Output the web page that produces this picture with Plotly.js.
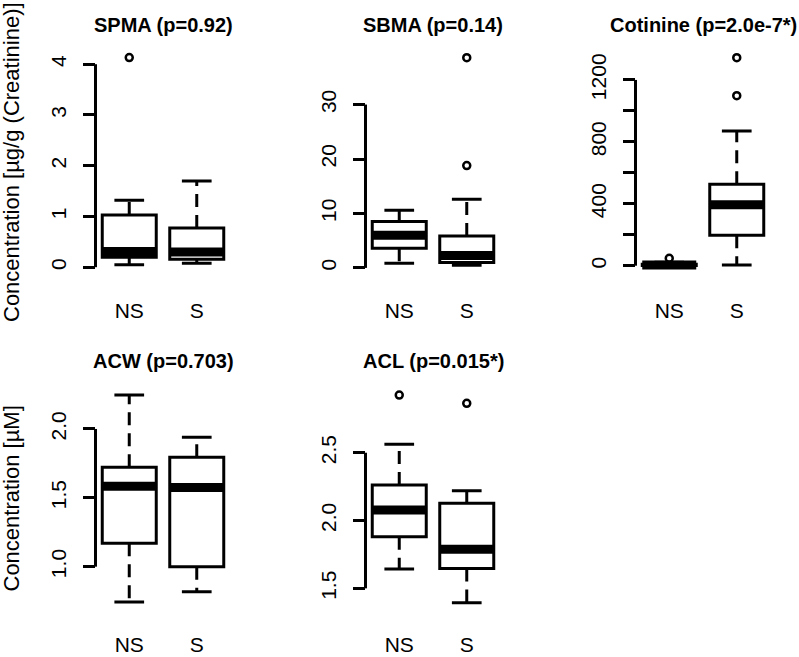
<!DOCTYPE html>
<html>
<head>
<meta charset="utf-8">
<script src="https://cdn.plot.ly/plotly-3.0.1.min.js"></script>
<style>html,body{margin:0;padding:0;background:#fff;}</style>
</head>
<body>
<div id="chart" style="width:799px;height:657px;"></div>
<script>
// ---- data ----
const groups = ['NS', 'S'];
const positions = [1, 2];
// five-number summaries: [lower whisker, Q1, median, Q3, upper whisker]
const spmaNS = [0.05, 0.195, 0.31, 1.03, 1.32];
const spmaS  = [0.077, 0.155, 0.30, 0.77, 1.70];
const spmaOutNS = [4.13];
const spmaOutS  = [];
const sbmaNS = [0.85, 3.6, 6.0, 8.5, 10.6];
const sbmaS  = [0.5, 1.0, 2.3, 5.86, 12.6];
const sbmaOutNS = [];
const sbmaOutS  = [18.8, 38.6];
const cotNS = [0, 1, 4, 10, 22];
const cotS  = [5, 196, 394, 526, 870];
const cotOutNS = [48];
const cotOutS  = [1098, 1344];
const acwNS = [0.743, 1.17, 1.584, 1.722, 2.247];
const acwS  = [0.818, 1.0, 1.575, 1.795, 1.94];
const acwOutNS = [];
const acwOutS  = [];
const aclNS = [1.642, 1.88, 2.077, 2.262, 2.562];
const aclS  = [1.394, 1.647, 1.788, 2.127, 2.22];
const aclOutNS = [2.925];
const aclOutS  = [2.864];

const titles = ['SPMA (p=0.92)', 'SBMA (p=0.14)', 'Cotinine (p=2.0e-7*)', 'ACW (p=0.703)', 'ACL (p=0.015*)'];
const yTitles = ['Concentration [µg/g (Creatinine)]', 'Concentration [µM]'];
const spmaTicks = [0, 1, 2, 3, 4];
const spmaTickText = ['0', '1', '2', '3', '4'];
const sbmaTicks = [0, 10, 20, 30];
const sbmaTickText = ['0', '10', '20', '30'];
const cotTicks = [0, 200, 400, 600, 800, 1000, 1200];
const cotTickText = ['0', '', '400', '', '800', '', '1200'];
const acwTicks = [1.0, 1.5, 2.0];
const acwTickText = ['1.0', '1.5', '2.0'];
const aclTicks = [1.5, 2.0, 2.5];
const aclTickText = ['1.5', '2.0', '2.5'];

// ---- layout helpers ----
const W = 799, H = 657;
const FONT = 'Liberation Sans, Arial, Helvetica, sans-serif';
const colPx = [[95.5, 230.5], [365.5, 500.5], [635.5, 770.5]];
const rowPx = [[50, 274], [386, 611]];
const rowLabelStandoff = [22, 19];
const xd = c => [colPx[c][0] / W, colPx[c][1] / W];
const yd = r => [1 - rowPx[r][1] / H, 1 - rowPx[r][0] / H];

const panels = [
  {stats: [spmaNS, spmaS], outs: [spmaOutNS, spmaOutS], ticks: spmaTicks, tt: spmaTickText, range: [-0.134, 4.280], col: 0, row: 0},
  {stats: [sbmaNS, sbmaS], outs: [sbmaOutNS, sbmaOutS], ticks: sbmaTicks, tt: sbmaTickText, range: [-1.12, 40.02], col: 1, row: 0},
  {stats: [cotNS, cotS], outs: [cotOutNS, cotOutS], ticks: cotTicks, tt: cotTickText, range: [-53.6, 1393.4], col: 2, row: 0},
  {stats: [acwNS, acwS], outs: [acwOutNS, acwOutS], ticks: acwTicks, tt: acwTickText, range: [0.678, 2.312], col: 0, row: 1},
  {stats: [aclNS, aclS], outs: [aclOutNS, aclOutS], ticks: aclTicks, tt: aclTickText, range: [1.333, 2.992], col: 1, row: 1}
];

const traces = [];
const layout = {
  width: W, height: H,
  margin: {l: 0, r: 0, t: 0, b: 0},
  paper_bgcolor: '#fff', plot_bgcolor: '#fff',
  showlegend: false,
  font: {family: FONT, size: 21, color: '#000'},
  shapes: [], annotations: []
};

const LW = 3;
panels.forEach((p, i) => {
  const n = i + 1;
  const xa = 'x' + (n === 1 ? '' : n), ya = 'y' + (n === 1 ? '' : n);
  const xk = 'xaxis' + (n === 1 ? '' : n), yk = 'yaxis' + (n === 1 ? '' : n);
  layout[xk] = {
    domain: xd(p.col), range: [0.5, 2.5], anchor: ya,
    showline: false, showgrid: false, zeroline: false, ticks: '',
    tickmode: 'array', tickvals: positions, ticktext: groups,
    tickfont: {family: FONT, size: 21, color: '#000'},
    ticklabelstandoff: rowLabelStandoff[p.row], fixedrange: true
  };
  layout[yk] = {
    domain: yd(p.row), range: p.range, anchor: xa,
    showline: false, showgrid: false, zeroline: false,
    ticks: 'outside', ticklen: 12, tickwidth: LW, tickcolor: '#000',
    tickmode: 'array', tickvals: p.ticks, ticktext: p.tt, tickangle: -90,
    tickfont: {family: FONT, size: 21, color: '#000'},
    ticklabelstandoff: 8, fixedrange: true
  };
  // y axis line spanning first..last tick (R style)
  layout.shapes.push({type: 'line', xref: xa + ' domain', yref: ya,
    x0: 0, x1: 0, y0: p.ticks[0], y1: p.ticks[p.ticks.length - 1],
    line: {color: '#000', width: LW}});
  // panel title
  layout.annotations.push({xref: xa + ' domain', yref: 'paper',
    x: 0.5, y: 1 - (rowPx[p.row][0] - 25) / H, yanchor: 'middle', xanchor: 'center',
    showarrow: false, text: '<b>' + titles[i] + '</b>',
    font: {family: FONT, size: 20, color: '#000'}});

  p.stats.forEach((s, g) => {
    const x = positions[g];
    // dashed whiskers
    traces.push({type: 'scatter', mode: 'lines', xaxis: xa, yaxis: ya,
      x: [x, x, null, x, x], y: [s[3], s[4], null, s[1], s[0]],
      line: {color: '#000', width: LW, dash: '13px,8px'}, hoverinfo: 'skip'});
    // box body
    traces.push({type: 'box', xaxis: xa, yaxis: ya, x: [x],
      q1: [s[1]], median: [s[2]], q3: [s[3]], lowerfence: [s[1]], upperfence: [s[3]],
      width: 0.8, fillcolor: '#fff', line: {color: '#000', width: LW},
      boxpoints: false, whiskerwidth: 0});
    // thick median
    traces.push({type: 'scatter', mode: 'lines', xaxis: xa, yaxis: ya,
      x: [x - 0.4, x + 0.4], y: [s[2], s[2]],
      line: {color: '#000', width: 9}, hoverinfo: 'skip'});
    // staples
    traces.push({type: 'scatter', mode: 'lines', xaxis: xa, yaxis: ya,
      x: [x - 0.22, x + 0.22, null, x - 0.22, x + 0.22], y: [s[0], s[0], null, s[4], s[4]],
      line: {color: '#000', width: LW}, hoverinfo: 'skip'});
    // outliers
    const o = p.outs[g];
    if (o.length) {
      traces.push({type: 'scatter', mode: 'markers', xaxis: xa, yaxis: ya,
        x: o.map(() => x), y: o,
        marker: {symbol: 'circle-open', size: 7, color: '#000', line: {color: '#000', width: 2.5}}});
    }
  });
});

// y axis titles (one per row)
[0, 1].forEach(r => {
  layout.annotations.push({xref: 'paper', yref: 'paper',
    x: 11 / W, y: 1 - (rowPx[r][0] + rowPx[r][1]) / 2 / H,
    xanchor: 'center', yanchor: 'middle', textangle: -90, showarrow: false,
    text: yTitles[r], font: {family: FONT, size: 22, color: '#000'}});
});

Plotly.newPlot('chart', traces, layout, {displayModeBar: false, staticPlot: true});
</script>
</body>
</html>
